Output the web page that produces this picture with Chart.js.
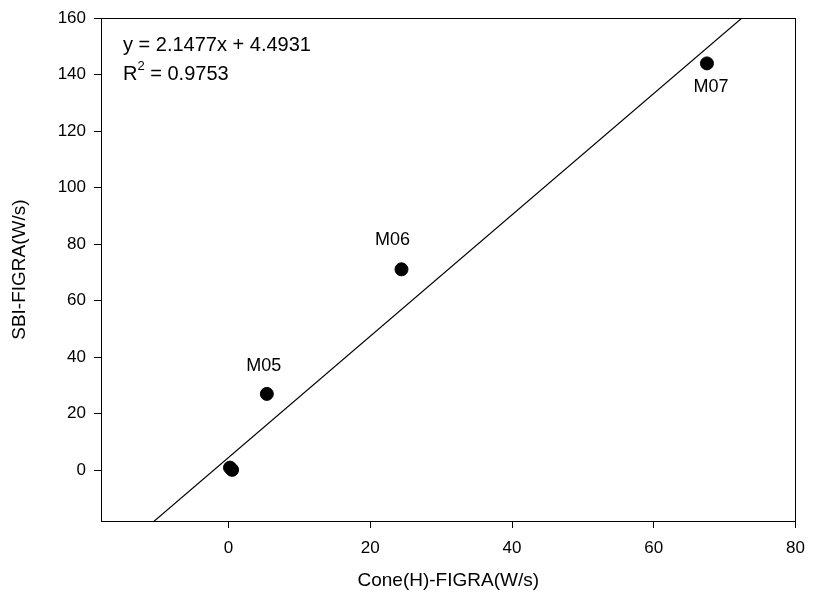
<!DOCTYPE html>
<html>
<head>
<meta charset="utf-8">
<script src="https://cdn.jsdelivr.net/npm/chart.js@4"></script>
<style>
  html, body { margin: 0; padding: 0; background: #fff; }
  #wrap { width: 815px; height: 612px; }
</style>
</head>
<body>
<div id="wrap"><canvas id="myChart"></canvas></div>
<script>
  const coneFigra = [0.2, 0.5, 5.4, 24.4, 67.5];
  const sbiFigra = [0.9, 0.1, 27.0, 71.1, 144.0];
  const pointNames = ['', '', 'M05', 'M06', 'M07'];

  const slope = 2.1477;
  const intercept = 4.4931;
  const rSquared = 0.9753;

  const xTicks = [0, 20, 40, 60, 80];
  const yTicks = [0, 20, 40, 60, 80, 100, 120, 140, 160];

  const xMin = -18, xMax = 80;
  const yMin = -18, yMax = 160;

  // pixel offsets of the point names from their dots
  const nameOffsets = [[0, 0], [0, 0], [-3, -28], [-9, -29], [4, 24]];

  const FONT = '"Liberation Sans", Arial, sans-serif';

  const points = coneFigra.map((x, i) => ({ x: x, y: sbiFigra[i] }));
  const fitLine = [
    { x: xMin, y: slope * xMin + intercept },
    { x: xMax, y: slope * xMax + intercept }
  ];

  const frameAndText = {
    id: 'frameAndText',
    afterDatasetsDraw(chart) {
      const ctx = chart.ctx;
      const a = chart.chartArea;
      const xs = chart.scales.x, ys = chart.scales.y;
      ctx.save();
      ctx.strokeStyle = '#000';
      ctx.lineWidth = 1;
      ctx.strokeRect(Math.round(a.left) + 0.5, Math.round(a.top) + 0.5,
        Math.round(a.right - a.left) - 1, Math.round(a.bottom - a.top));

      ctx.fillStyle = '#000';
      ctx.font = '18px ' + FONT;
      ctx.textAlign = 'center';
      ctx.textBaseline = 'middle';
      pointNames.forEach((name, i) => {
        if (!name) return;
        const px = xs.getPixelForValue(coneFigra[i]) + nameOffsets[i][0];
        const py = ys.getPixelForValue(sbiFigra[i]) + nameOffsets[i][1];
        ctx.fillText(name, px, py);
      });

      // regression equation
      ctx.textAlign = 'left';
      ctx.textBaseline = 'alphabetic';
      ctx.font = '20px ' + FONT;
      const tx = a.left + 22;
      ctx.fillText('y = ' + slope.toFixed(4) + 'x + ' + intercept.toFixed(4), tx, a.top + 33);
      ctx.fillText('R', tx, a.top + 62);
      let w = ctx.measureText('R').width;
      ctx.font = '13px ' + FONT;
      ctx.fillText('2', tx + w, a.top + 52);
      w += ctx.measureText('2').width;
      ctx.font = '20px ' + FONT;
      ctx.fillText(' = ' + rSquared.toFixed(4), tx + w, a.top + 62);
      ctx.restore();
    }
  };

  const config = {
    type: 'scatter',
    data: {
      datasets: [
        {
          label: 'fit',
          type: 'line',
          data: fitLine,
          borderColor: '#000',
          borderWidth: 1.2,
          pointRadius: 0,
          fill: false
        },
        {
          label: 'FIGRA',
          data: points,
          backgroundColor: '#000',
          borderColor: '#000',
          pointRadius: 6.5,
          pointHoverRadius: 6.5
        }
      ]
    },
    plugins: [frameAndText],
    options: {
      responsive: true,
      maintainAspectRatio: false,
      animation: false,
      events: [],
      layout: { padding: { top: 17, right: 13, left: 0, bottom: 0 } },
      plugins: {
        legend: { display: false },
        tooltip: { enabled: false }
      },
      scales: {
        x: {
          type: 'linear',
          min: xMin,
          max: xMax,
          afterFit(scale) { scale.height = 91; },
          afterBuildTicks(scale) { scale.ticks = xTicks.map(v => ({ value: v })); },
          grid: {
            drawOnChartArea: false,
            drawTicks: true,
            tickLength: 7,
            color: '#000',
            tickColor: '#000'
          },
          border: { display: false },
          ticks: {
            color: '#000',
            font: { family: FONT, size: 17 },
            padding: 10,
            maxRotation: 0
          },
          title: {
            display: true,
            text: 'Cone(H)-FIGRA(W/s)',
            color: '#000',
            font: { family: FONT, size: 19 },
            padding: { top: 0, bottom: 20 }
          }
        },
        y: {
          type: 'linear',
          min: yMin,
          max: yMax,
          afterFit(scale) { scale.width = 101; },
          afterBuildTicks(scale) { scale.ticks = yTicks.map(v => ({ value: v })); },
          grid: {
            drawOnChartArea: false,
            drawTicks: true,
            tickLength: 7,
            color: '#000',
            tickColor: '#000'
          },
          border: { display: false },
          ticks: {
            color: '#000',
            font: { family: FONT, size: 17 },
            padding: 8
          },
          title: {
            display: true,
            text: 'SBI-FIGRA(W/s)',
            color: '#000',
            font: { family: FONT, size: 19 },
            padding: { top: 8, bottom: 0 }
          }
        }
      }
    }
  };

  const myChart = new Chart(document.getElementById('myChart'), config);
</script>
</body>
</html>
